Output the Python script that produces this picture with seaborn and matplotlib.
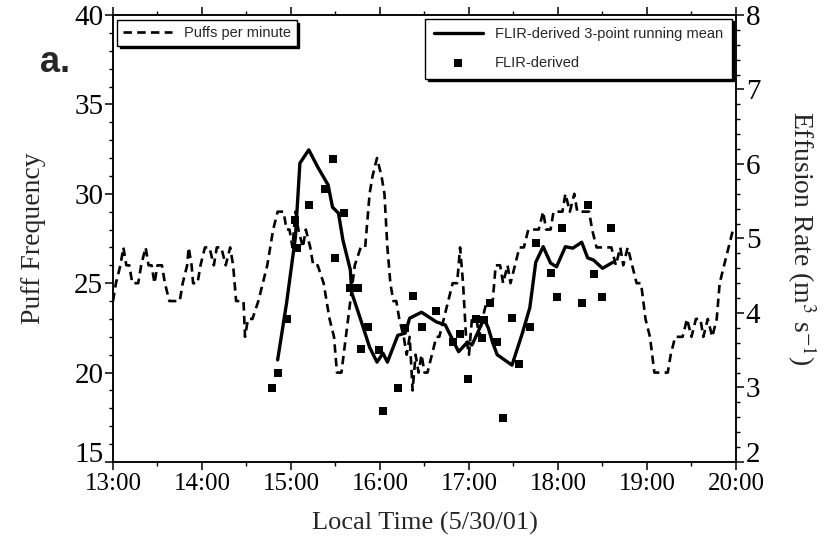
import matplotlib
matplotlib.use("Agg")
import matplotlib.pyplot as plt
import seaborn as sns
import pandas as pd
from matplotlib.ticker import MultipleLocator, FixedLocator, FixedFormatter

# ---- data (minutes after 13:00) ----
puff_minutes = [0, 2, 5, 7, 9, 11, 13, 17, 19, 22, 24, 26, 28, 30, 33, 35, 38, 45, 47, 50,
                51, 53, 54, 57, 59, 62, 65, 68, 70, 73, 76, 79, 81, 83, 88, 89, 91, 94, 98, 101,
                104, 108, 111, 115, 117, 119, 121, 123, 125, 128, 130, 133, 135, 138, 142, 144,
                146, 149, 151, 154, 157, 160, 163, 167, 170, 173, 175, 178, 181, 183, 185, 187,
                189, 191, 193, 196, 198, 200, 202, 204, 206, 208, 210, 212, 215, 218, 220, 223,
                226, 229, 232, 234, 236, 238, 240, 242, 245, 247, 249, 252, 256, 258, 261, 263,
                266, 268, 271, 274, 277, 280, 284, 287, 290, 292, 295, 297, 300, 303, 305, 308,
                311, 313, 318, 321, 323, 326, 328, 332, 336, 339, 342, 344, 347, 350, 353, 356,
                359, 362, 365, 369, 374, 376, 379, 382, 384, 387, 390, 393, 396, 398, 401, 404,
                407, 409, 412, 415, 418]
puff_values = [24, 25, 26, 27, 26, 26, 25, 25, 26, 27, 26, 26, 25, 26, 26, 25, 24, 24, 25, 26,
               27, 26, 25, 25, 26, 27, 27, 26, 27, 27, 26, 27, 26, 24, 24, 22, 23, 23, 24, 25,
               26, 28, 29, 29, 28, 28, 27, 29, 28, 27, 28, 27, 26, 26, 25, 24,
               23, 22, 20, 20, 22, 24, 26, 27, 27, 30, 31, 32, 31, 30, 27, 25,
               24, 24, 23, 22, 21, 22, 19, 21, 20, 21, 20, 20, 21, 22, 22, 23,
               24, 25, 25, 27, 25, 22, 21, 23, 23, 22, 23, 24, 24, 26, 26, 25,
               26, 25, 26, 27, 27, 28, 28, 28, 29, 28, 28, 29, 29, 29, 30, 29,
               30, 29, 29, 29, 28, 27, 27, 27, 27, 26, 27, 26, 27, 26, 25, 25,
               23, 22, 20, 20, 20, 21, 22, 22, 22, 23, 22, 23, 23, 22, 23, 22,
               23, 25, 26, 27, 28]

mean_minutes = [111, 117, 123, 126, 132, 138, 145, 148, 152, 155, 160, 161, 167, 173, 178, 182,
                185, 192, 197, 200, 208, 218, 224, 233, 239, 242, 246, 250, 253, 256, 259, 269,
                276, 281, 285, 290, 295, 299, 305, 310, 316, 320, 324, 330, 337]
mean_rate = [3.37, 4.13, 5.02, 6.01, 6.19, 5.96, 5.72, 5.42, 5.34, 4.98, 4.58, 4.27, 3.91, 3.54,
             3.34, 3.46, 3.34, 3.70, 3.73, 3.93, 4.01, 3.88, 3.84, 3.48, 3.61, 3.57, 3.74, 3.93,
             3.80, 3.60, 3.44, 3.30, 3.73, 4.07, 4.68, 4.89, 4.67, 4.62, 4.89, 4.87, 4.95, 4.74,
             4.71, 4.60, 4.68]

flir_minutes = [107, 111, 117, 123, 124, 132, 148, 156, 150, 160, 165, 172, 167, 179, 192, 182,
                202, 197, 208, 218, 229, 234, 239, 245, 250, 249, 254, 259, 263, 269, 274, 281,
                285, 295, 299, 303, 316, 320, 324, 330, 336, 143]
flir_rate = [2.99, 3.19, 3.92, 5.25, 4.87, 5.45, 6.07, 5.34, 4.74, 4.34, 4.34, 3.81, 3.52, 3.50,
             2.99, 2.68, 4.23, 3.80, 3.81, 4.03, 3.61, 3.72, 3.11, 3.92, 3.91, 3.66, 4.13, 3.61,
             2.59, 3.93, 3.32, 3.81, 4.94, 4.54, 4.21, 5.14, 4.13, 5.45, 4.52, 4.21, 5.14, 5.66]

x_ticks = [0, 60, 120, 180, 240, 300, 360, 420]
x_labels = ["13:00", "14:00", "15:00", "16:00", "17:00", "18:00", "19:00", "20:00"]
left_ticks = [15, 20, 25, 30, 35, 40]
right_ticks = [2, 3, 4, 5, 6, 7, 8]

# ---- style ----
sns.set_theme(style="ticks")
plt.rcParams["font.family"] = ["Liberation Serif", "DejaVu Serif"]
plt.rcParams["mathtext.fontset"] = "stix"

fig = plt.figure(figsize=(8.32, 5.55), dpi=100)
ax1 = fig.add_axes([0.1358, 0.1676, 0.7488, 0.8054])
ax2 = ax1.twinx()

puff_df = pd.DataFrame({"t": puff_minutes, "v": puff_values})
mean_df = pd.DataFrame({"t": mean_minutes, "r": mean_rate})
flir_df = pd.DataFrame({"t": flir_minutes, "r": flir_rate})

sns.lineplot(data=puff_df, x="t", y="v", ax=ax1, color="black", lw=1.9,
             linestyle=(0, (3.2, 2.0)), estimator=None, sort=False,
             label="Puffs per minute")
sns.lineplot(data=mean_df, x="t", y="r", ax=ax2, color="black", lw=2.4,
             estimator=None, sort=False, label="FLIR-derived 3-point running mean")
sns.scatterplot(data=flir_df, x="t", y="r", ax=ax2, color="black", marker="s",
                s=26, edgecolor="black", linewidth=0, label="FLIR-derived", zorder=3)

ax1.set_xlim(0, 420)
ax1.set_ylim(15, 40)
ax2.set_ylim(2, 8)

ax1.xaxis.set_major_locator(FixedLocator(x_ticks))
ax1.xaxis.set_major_formatter(FixedFormatter(x_labels))
ax1.xaxis.set_minor_locator(MultipleLocator(30))
ax1.yaxis.set_major_locator(FixedLocator(left_ticks))
ax1.yaxis.set_minor_locator(MultipleLocator(1))
ax2.yaxis.set_major_locator(FixedLocator(right_ticks))
ax2.yaxis.set_minor_locator(MultipleLocator(0.2))

for ax in (ax1, ax2):
    for s in ax.spines.values():
        s.set_color("black")
        s.set_linewidth(1.1)
    ax.tick_params(which="major", direction="out", length=6, width=1.1, colors="black")
    ax.tick_params(which="minor", direction="out", length=3, width=1.0, colors="black")

ax1.tick_params(axis="x", which="both", top=True, labeltop=False)
ax1.tick_params(axis="x", labelsize=18, pad=2)
ax1.tick_params(axis="y", labelsize=21, pad=1)
ax2.tick_params(axis="y", labelsize=21, pad=1)

ax1.set_xlabel("Local Time (5/30/01)", fontsize=19, labelpad=12)
ax1.set_ylabel("Puff Frequency", fontsize=20, labelpad=20)
ax2.set_ylabel(r"Effusion Rate (m$^{3}$ s$^{-1}$)", fontsize=20, rotation=270, labelpad=42)

leg_font = {"family": "Liberation Sans", "size": 10.5}
shadow = {"color": "black", "alpha": 1.0}
l1 = ax1.legend(loc="upper left", bbox_to_anchor=(0.006, 0.989), borderaxespad=0,
                prop=leg_font, frameon=True, fancybox=False, shadow=shadow,
                handlelength=3.4, edgecolor="black", framealpha=1)
l1.get_frame().set_linewidth(1.0)

h, lab = ax2.get_legend_handles_labels()
l2 = ax2.legend(h, lab, loc="upper right", bbox_to_anchor=(0.993, 0.992), borderaxespad=0,
                prop=leg_font, frameon=True, fancybox=False, shadow=shadow,
                handlelength=3.4, edgecolor="black", framealpha=1, labelspacing=1.0,
                borderpad=0.6)
l2.get_frame().set_linewidth(1.0)

fig.text(0.066, 0.888, "a.", fontsize=26, weight="bold", family="Liberation Sans",
         ha="center", va="center")

# the lowest y tick labels sit on their baseline, just above the time labels
ax1.yaxis.get_major_ticks()[0].label1.set_verticalalignment("baseline")
ax2.yaxis.get_major_ticks()[0].label2.set_verticalalignment("baseline")

fig.savefig("out.png", dpi=100)
